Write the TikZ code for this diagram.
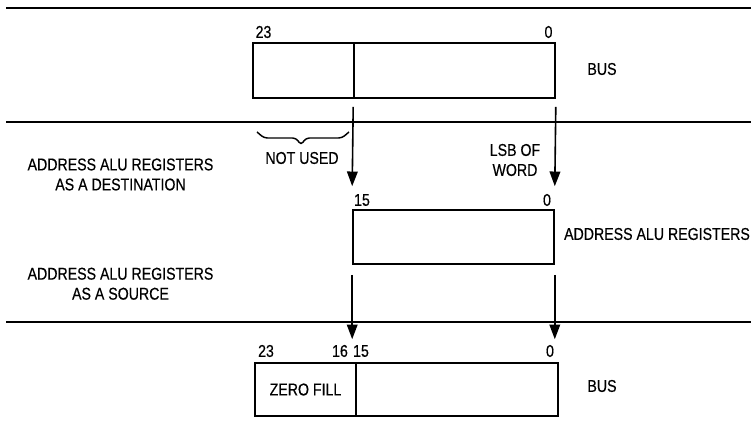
\documentclass[tikz,border=0pt]{standalone}
\usepackage{fontspec}
\setmainfont{Liberation Sans}[FakeStretch=0.83,FakeBold=0.4]
\usetikzlibrary{arrows.meta,calc}
\begin{document}
\begin{tikzpicture}[x=0.75pt,y=-0.75pt,
  txt/.style={font=\fontsize{12.8}{15}\selectfont, inner sep=0pt, anchor=center},
  mtxt/.style={txt, align=center},
  regbox/.style={draw, rectangle, line width=1.2pt, inner sep=0pt, font=\fontsize{12.8}{15}\selectfont},
  busline/.style={line width=1.9pt},
  arr/.style={line width=1.2pt, -{Triangle[width=8pt,length=11pt]}},
  bracepath/.style={line width=1.1pt, rounded corners=2.5pt},
]
\useasboundingbox (0,0) rectangle (751,434);

% separating lines
\draw[busline] (6,8) -- (751,8);
\draw[busline] (6,122) -- (751,122);
\draw[busline] (6,322) -- (751,322);

% top bus
\node[regbox, minimum width=75.75pt, minimum height=41.25pt] (busTopL) at (303.5,70.5) {};
\node[regbox, minimum width=150.75pt, minimum height=41.25pt] (busTopR) at (454.5,70.5) {};
\node[txt] (t23) at (263.5,32) {23};
\node[txt] (t0) at (548.5,32) {0};
\node[txt] (busTop) at (602,69) {BUS};

% address ALU registers
\node[regbox, minimum width=150.75pt, minimum height=40.5pt] (alu) at (453.5,237) {};
\node[txt] (a15) at (362,200) {15};
\node[txt] (a0) at (547,200) {0};
\node[txt] (aluLbl) at (657,234) {ADDRESS ALU REGISTERS};

% bottom bus
\node[regbox, minimum width=75.75pt, minimum height=39.75pt] (busBotL) at (305.5,389.5) {ZERO FILL};
\node[regbox, minimum width=151.5pt, minimum height=39.75pt] (busBotR) at (457,389.5) {};
\node[txt] (b23) at (266,351) {23};
\node[txt] (b16) at (340,351) {16};
\node[txt] (b15) at (361,351) {15};
\node[txt] (b0) at (550,351) {0};
\node[txt] (busBot) at (602,386) {BUS};

% left labels
\node[mtxt] (dest) at (120.5,174.5) {ADDRESS ALU REGISTERS\\AS A DESTINATION};
\node[mtxt] (src) at (120.5,283.75) {ADDRESS ALU REGISTERS\\AS A SOURCE};

% other labels
\node[txt] (notused) at (302,158) {NOT USED};
\node[mtxt] (lsb) at (515,160) {LSB OF\\WORD};

% brace
\draw[bracepath] (257,132) -- (264,138) -- (296,138) -- (301,145) -- (306,138) -- (342,138) -- (349,132);

% arrows
\draw[arr] ($(busTopR.south west)+(0,8)$) -- ($(alu.north west)+(0,-23)$);
\draw[arr] ($(busTopR.south east)+(0,8)$) -- ($(alu.north east)+(0,-23)$);
\draw[arr] ($(alu.south west)+(0,10)$) -- ($(alu.south west |- busBotR.north)+(0,-23)$);
\draw[arr] ($(alu.south east)+(0,10)$) -- ($(alu.south east |- busBotR.north)+(0,-23)$);
\end{tikzpicture}
\end{document}
